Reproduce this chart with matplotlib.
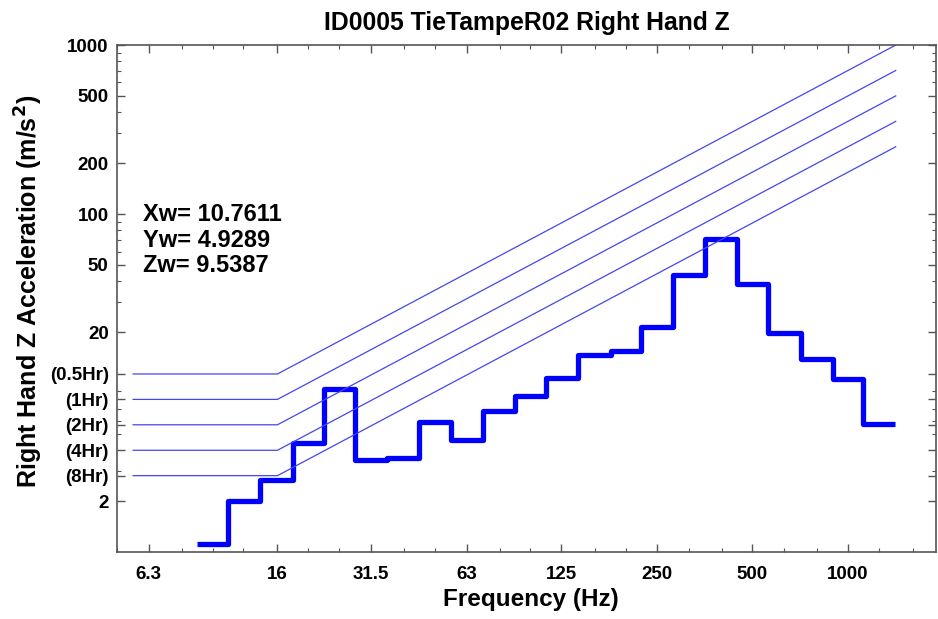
"""
手臂振动 1/3 倍频程频谱图
Right Hand Z 方向加速度与暴露时间限值线
"""

import numpy as np
import matplotlib
matplotlib.use("Agg")
import matplotlib.pyplot as plt
from matplotlib.ticker import FixedLocator, NullFormatter

plt.rcParams['font.family'] = ['Liberation Sans', 'DejaVu Sans']
plt.rcParams['font.weight'] = 'bold'

# 1/3 倍频程中心频率 (Hz)
bands = [10, 12.5, 16, 20, 25, 31.5, 40, 50, 63, 80, 100, 125, 160, 200,
         250, 315, 400, 500, 630, 800, 1000, 1250]
# 各频带加速度 (m/s^2)
accel = [1.12, 2.0, 2.67, 4.39, 9.16, 3.50, 3.62, 5.87, 4.58, 6.83, 8.37,
         10.74, 14.6, 15.4, 21.4, 43.4, 71.5, 38.7, 19.8, 13.8, 10.6, 5.69]

# 暴露时间限值线
hour_labels = ['(0.5Hr)', '(1Hr)', '(2Hr)', '(4Hr)', '(8Hr)']
hour_levels = [11.31, 8.0, 5.66, 4.0, 2.83]
limit_freq = [5.62, 16, 1413]

x_ticks = [6.3, 16, 31.5, 63, 125, 250, 500, 1000]
x_minor = [5, 6.3, 8, 10, 12.5, 16, 20, 25, 31.5, 40, 50, 63, 80, 100, 125,
           160, 200, 250, 315, 400, 500, 630, 800, 1000, 1250, 1600]
y_ticks = [2, 20, 50, 100, 200, 500, 1000]

weighted = ['Xw= 10.7611', 'Yw= 4.9289', 'Zw= 9.5387']


def band_edges(centers):
    """由中心频率计算频带边界"""
    c = np.asarray(centers, dtype=float)
    inner = np.sqrt(c[:-1] * c[1:])
    return np.concatenate([[c[0] * 2 ** (-1 / 6)], inner, [c[-1] * 2 ** (1 / 6)]])


def plot_spectrum(filename="out.png"):
    fig = plt.figure(figsize=(9.38, 6.19), dpi=100)
    ax = fig.add_axes([0.1247, 0.1082, 0.873, 0.8191])

    # 限值线：16Hz 以下为常数，以上与频率成正比
    for lvl in hour_levels:
        f = np.array(limit_freq, dtype=float)
        a = lvl * np.maximum(f / limit_freq[1], 1.0)
        ax.plot(f, a, color='#4646ee', linewidth=0.9)

    ax.stairs(accel, band_edges(bands), baseline=None, color='#0000ff',
              linewidth=3.8, joinstyle='round')

    ax.set_xscale('log')
    ax.set_yscale('log')
    ax.set_xlim(5, 1890)
    ax.set_ylim(1, 1000)

    ax.xaxis.set_major_locator(FixedLocator(x_ticks))
    ax.xaxis.set_minor_locator(FixedLocator(x_minor))
    ax.set_xticklabels([f"{v:g}" for v in x_ticks])
    ax.xaxis.set_minor_formatter(NullFormatter())

    yt = y_ticks + hour_levels
    ylab = [f"{v:g}" for v in y_ticks] + hour_labels
    ax.yaxis.set_major_locator(FixedLocator(yt))
    ax.set_yticklabels(ylab)
    ax.yaxis.set_minor_locator(matplotlib.ticker.LogLocator(base=10, subs=np.arange(2, 10)))
    ax.yaxis.set_minor_formatter(NullFormatter())

    ax.tick_params(which='both', direction='in', top=True, right=True,
                   color='#555555', labelsize=13.5)
    ax.tick_params(which='major', length=6, width=1, pad=6)
    ax.tick_params(which='minor', length=3, width=0.8)
    ax.tick_params(axis='x', which='major', pad=10)
    for s in ax.spines.values():
        s.set_color('#555555')
        s.set_linewidth(1.2)

    ax.set_title('ID0005 TieTampeR02 Right Hand Z', fontsize=17.8,
                 fontweight='bold', pad=11)
    ax.set_xlabel('Frequency (Hz)', fontsize=17.5, fontweight='bold')
    ax.set_ylabel('Right Hand Z Acceleration (m/s$^\\mathbf{2}$)', fontsize=18,
                  fontweight='bold')
    ax.xaxis.set_label_coords(0.505, -0.07)
    ax.yaxis.set_label_coords(-0.088, 0.513)

    ys = [0.665, 0.615, 0.566]
    for txt, y in zip(weighted, ys):
        ax.text(0.032, y, txt, transform=ax.transAxes, fontsize=17,
                fontweight='bold', va='center', ha='left')

    fig.savefig(filename, dpi=100)
    print(f"图已保存为 {filename}")


if __name__ == "__main__":
    plot_spectrum("out.png")
